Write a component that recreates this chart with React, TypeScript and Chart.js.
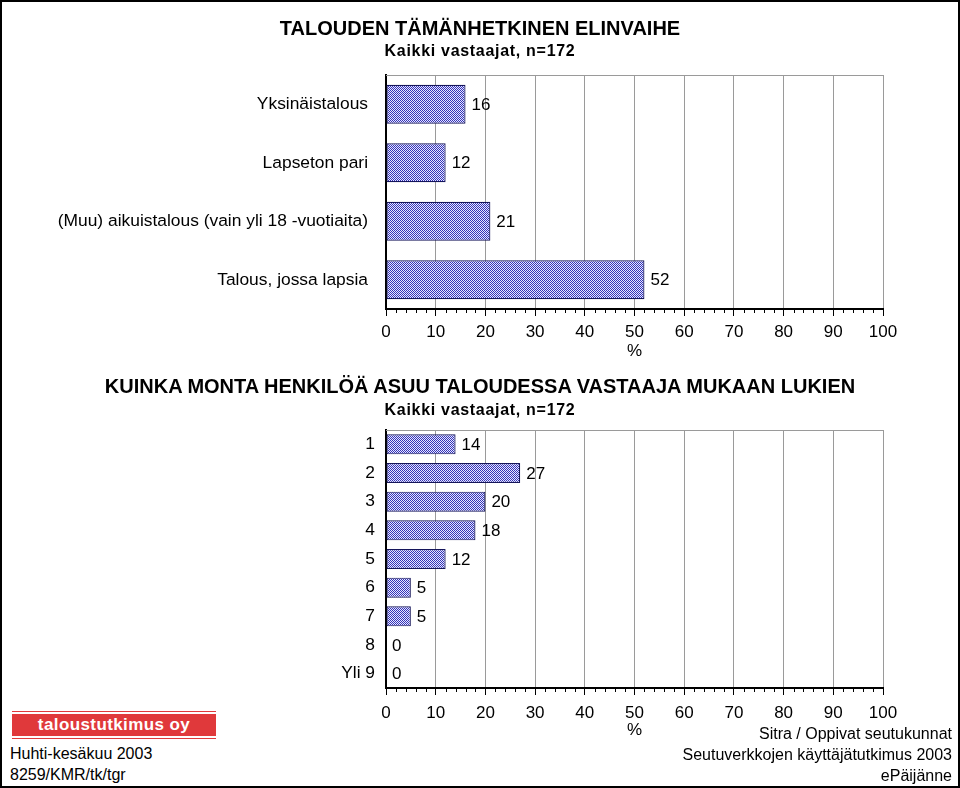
import React, { useEffect, useRef } from 'react';
import { Chart, registerables } from 'chart.js';

Chart.register(...registerables);

// ---- data ----
const householdCategories = [
  'Yksinäistalous',
  'Lapseton pari',
  '(Muu) aikuistalous (vain yli 18 -vuotiaita)',
  'Talous, jossa lapsia',
];
const householdValues = [16, 12, 21, 52];

const sizeCategories = ['1', '2', '3', '4', '5', '6', '7', '8', 'Yli 9'];
const sizeValues = [14, 27, 20, 18, 12, 5, 5, 0, 0];

const axisMin = 0;
const axisMax = 100;
const majorStep = 10;
const minorStep = 2;

const FONT = '"Liberation Sans", Arial, Helvetica, sans-serif';

function makePattern(): CanvasPattern | string {
  const c = document.createElement('canvas');
  c.width = 2;
  c.height = 2;
  const g = c.getContext('2d');
  if (!g) return '#8c8ce0';
  g.fillStyle = '#e8e8ff';
  g.fillRect(0, 0, 2, 2);
  g.fillStyle = '#3434b8';
  g.fillRect(0, 0, 1, 1);
  g.fillRect(1, 1, 1, 1);
  return g.createPattern(c, 'repeat') || '#8c8ce0';
}

const framePlugin = {
  id: 'frameAndMinor',
  beforeDatasetsDraw(chart: any) {
    const { ctx, chartArea } = chart;
    ctx.save();
    ctx.strokeStyle = '#9a9a9a';
    ctx.lineWidth = 1;
    ctx.beginPath();
    ctx.moveTo(chartArea.left, chartArea.top + 0.5);
    ctx.lineTo(chartArea.right, chartArea.top + 0.5);
    ctx.stroke();
    ctx.restore();
  },
  afterDraw(chart: any) {
    const { ctx, chartArea } = chart;
    const xs = chart.scales.x;
    ctx.save();
    ctx.strokeStyle = '#000';
    ctx.lineWidth = 1;
    for (let v = axisMin; v <= axisMax; v += minorStep) {
      if (v % majorStep === 0) continue;
      const px = Math.round(xs.getPixelForValue(v)) + 0.5;
      ctx.beginPath();
      ctx.moveTo(px, chartArea.bottom);
      ctx.lineTo(px, chartArea.bottom + 4);
      ctx.stroke();
    }
    ctx.restore();
  },
};

const valueLabelPlugin = {
  id: 'valueLabels',
  afterDatasetsDraw(chart: any) {
    const ctx = chart.ctx;
    chart.data.datasets.forEach((ds: any, i: number) => {
      const meta = chart.getDatasetMeta(i);
      meta.data.forEach((el: any, j: number) => {
        ctx.save();
        ctx.font = `17px ${FONT}`;
        ctx.fillStyle = '#000';
        ctx.textAlign = 'left';
        ctx.textBaseline = 'middle';
        ctx.fillText(String(ds.data[j]), el.x + 6, el.y + 1);
        ctx.restore();
      });
    });
  },
};

type BarProps = {
  labels: string[];
  values: number[];
  width: number;
  height: number;
  top: number;
  padTop: number;
  barPct: number;
  yPad: number;
  xPad: number;
};

function HBarChart(p: BarProps) {
  const ref = useRef<HTMLCanvasElement | null>(null);
  useEffect(() => {
    if (!ref.current) return;
    const pattern = makePattern();
    const chart = new Chart(ref.current, {
      type: 'bar',
      data: {
        labels: p.labels,
        datasets: [
          {
            data: p.values,
            backgroundColor: pattern as any,
            borderColor: '#15155a',
            borderWidth: (c: any) => (c.raw === 0 ? 0 : 1.2),
            borderSkipped: false,
            barPercentage: p.barPct,
            categoryPercentage: 1,
          },
        ],
      },
      options: {
        indexAxis: 'y',
        responsive: false,
        maintainAspectRatio: false,
        animation: false,
        devicePixelRatio: 1,
        layout: { padding: { top: p.padTop, right: 77, left: 0, bottom: 0 } },
        plugins: {
          legend: { display: false },
          tooltip: { enabled: false },
          title: { display: false },
        },
        scales: {
          x: {
            type: 'linear',
            min: axisMin,
            max: axisMax,
            ticks: {
              stepSize: majorStep,
              color: '#000',
              font: { family: FONT, size: 17 },
              padding: p.xPad,
              maxRotation: 0,
            },
            grid: {
              color: (c: any) => (c.tick && c.tick.value === 0 ? 'rgba(0,0,0,0)' : '#9a9a9a'),
              tickColor: '#000',
              tickLength: 7,
              lineWidth: 1,
            },
            border: { display: true, color: '#000', width: 2 },
            title: {
              display: true,
              text: '%',
              color: '#000',
              font: { family: FONT, size: 17 },
              padding: 0,
            },
            afterFit: (s: any) => {
              s.height = 53;
            },
          },
          y: {
            type: 'category',
            ticks: {
              color: '#000',
              font: { family: FONT, size: 17.4 },
              padding: p.yPad,
            },
            grid: { display: false, drawTicks: false },
            border: { display: true, color: '#000', width: 2 },
            afterFit: (s: any) => {
              s.width = 386;
            },
          },
        },
      },
      plugins: [framePlugin, valueLabelPlugin],
    });
    return () => chart.destroy();
  }, []);
  return (
    <canvas
      ref={ref}
      width={p.width}
      height={p.height}
      style={{ position: 'absolute', left: 0, top: p.top, width: p.width, height: p.height }}
    />
  );
}

function Txt(props: {
  text: string;
  baseline: number;
  size: number;
  bold?: boolean;
  align?: 'left' | 'center' | 'right';
  left?: number;
  right?: number;
  spacing?: number;
}) {
  const { text, baseline, size, bold, align = 'left', left, right, spacing } = props;
  const style: React.CSSProperties = {
    position: 'absolute',
    top: baseline - 0.8465 * size,
    fontFamily: FONT,
    fontSize: size,
    lineHeight: `${size}px`,
    fontWeight: bold ? 700 : 400,
    color: '#000',
    whiteSpace: 'nowrap',
    letterSpacing: spacing ? `${spacing}px` : undefined,
  };
  if (align === 'center') {
    style.left = 0;
    style.width = 960;
    style.textAlign = 'center';
  } else if (align === 'right') {
    style.right = right ?? 0;
    style.textAlign = 'right';
  } else {
    style.left = left ?? 0;
  }
  return <div style={style}>{text}</div>;
}

export default function App() {
  return (
    <div
      style={{
        position: 'absolute',
        left: 0,
        top: 0,
        width: 960,
        height: 788,
        background: '#fff',
        overflow: 'hidden',
      }}
    >
      <HBarChart
        labels={householdCategories}
        values={householdValues}
        width={960}
        height={362}
        top={0}
        padTop={75}
        barPct={0.667}
        yPad={18}
        xPad={6}
      />
      <HBarChart
        labels={sizeCategories}
        values={sizeValues}
        width={960}
        height={381}
        top={360}
        padTop={70}
        barPct={0.7}
        yPad={11}
        xPad={8}
      />

      <Txt text="TALOUDEN TÄMÄNHETKINEN ELINVAIHE" baseline={34.5} size={20} bold align="center" />
      <Txt text="Kaikki vastaajat, n=172" baseline={57} size={16} bold align="center" spacing={0.7} />
      <Txt
        text="KUINKA MONTA HENKILÖÄ ASUU TALOUDESSA VASTAAJA MUKAAN LUKIEN"
        baseline={393}
        size={20}
        bold
        align="center"
      />
      <Txt text="Kaikki vastaajat, n=172" baseline={415.5} size={16} bold align="center" spacing={0.7} />

      {/* logo banner */}
      <div
        style={{
          position: 'absolute',
          left: 12,
          top: 711,
          width: 204,
          height: 22,
          borderTop: '1px solid #e0393b',
          borderBottom: '1px solid #e0393b',
          padding: '2px 0',
        }}
      >
        <div
          style={{
            width: '100%',
            height: '100%',
            background: '#e0393b',
            color: '#fff',
            fontFamily: FONT,
            fontWeight: 700,
            fontSize: 17,
            letterSpacing: '0.4px',
            display: 'flex',
            alignItems: 'center',
            justifyContent: 'center',
          }}
        >
          taloustutkimus oy
        </div>
      </div>
      <Txt text="Huhti-kesäkuu 2003" baseline={760} size={16} left={10} />
      <Txt text="8259/KMR/tk/tgr" baseline={781} size={16} left={10} />

      <Txt text="Sitra / Oppivat seutukunnat" baseline={740} size={16} align="right" right={8} />
      <Txt text="Seutuverkkojen käyttäjätutkimus 2003" baseline={761} size={16} align="right" right={8} />
      <Txt text="ePäijänne" baseline={782} size={16} align="right" right={8} />

      <div
        style={{
          position: 'absolute',
          left: 0,
          top: 0,
          width: 960,
          height: 788,
          boxSizing: 'border-box',
          border: '2px solid #000',
          pointerEvents: 'none',
        }}
      />
    </div>
  );
}
